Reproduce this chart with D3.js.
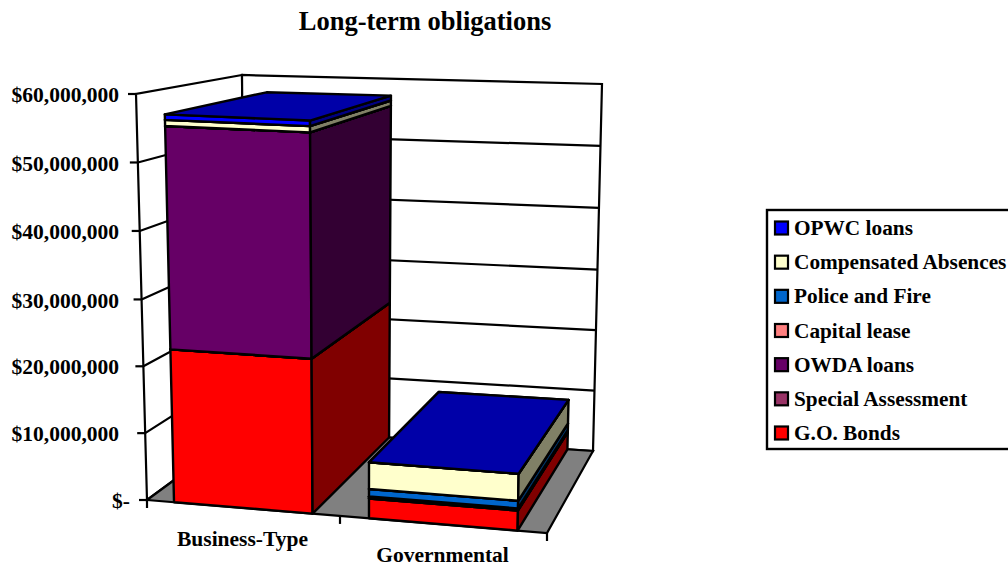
<!DOCTYPE html>
<html>
<head>
<meta charset="utf-8">
<title>Long-term obligations</title>
<script src="https://cdn.jsdelivr.net/npm/d3@7/dist/d3.min.js"></script>
<style>
  html, body { margin: 0; padding: 0; background: #fff; overflow: hidden; }
  svg { display: block; }
  text { font-family: "Liberation Serif", serif; font-weight: bold; fill: #000; }
</style>
</head>
<body>
<div id="graph"></div>
<script>
// Chart data, bottom of the stack first
const categories = ["Business-Type", "Governmental"];
const seriesNames = ["G.O. Bonds", "Special Assessment", "OWDA loans", "Capital lease", "Police and Fire", "Compensated Absences", "OPWC loans"];
const goBonds = [22800000, 2900000];
const specialAssessment = [0, 100000];
const owdaLoans = [32700000, 200000];
const capitalLease = [0, 0];
const policeAndFire = [0, 1100000];
const compensatedAbsences = [900000, 3900000];
const opwcLoans = [800000, 0];
const seriesValues = [goBonds, specialAssessment, owdaLoans, capitalLease, policeAndFire, compensatedAbsences, opwcLoans];
const valueTicks = [0, 10000000, 20000000, 30000000, 40000000, 50000000, 60000000];
const tickLabels = ["$-", "$10,000,000", "$20,000,000", "$30,000,000", "$40,000,000", "$50,000,000", "$60,000,000"];

const seriesColors = ["#ff0000", "#993366", "#660066", "#ff8080", "#0066cc", "#ffffcc", "#0000ff"];

const width = 1008, height = 565;

// Corners of the plot box on screen: c[x][depth][height]
const c = [
  [[[147, 500], [136, 94]], [[245, 428], [242, 75]]],
  [[[547, 533], [556, 111]], [[593, 451], [602, 84]]]
];

// Perspective is not even, so the scales have a bent midpoint
const xScale = d3.scaleLinear().domain([0, 1, 2]).range([0, 0.4825, 1]);
const yScale = d3.scaleLinear().domain([0, 30000000, 60000000]).range([0, 0.494, 1]);
const barInset = [0.14, 0.858];

// Trilinear lookup in the box, u/w/v all 0..1
let project = (u, w, v) => {
  let pt = [0, 1].map(i => {
    let a = c[0][0][0][i] * (1 - u) + c[1][0][0][i] * u;
    let b = c[0][1][0][i] * (1 - u) + c[1][1][0][i] * u;
    let d = c[0][0][1][i] * (1 - u) + c[1][0][1][i] * u;
    let e = c[0][1][1][i] * (1 - u) + c[1][1][1][i] * u;
    let bottom = a * (1 - w) + b * w;
    let top = d * (1 - w) + e * w;
    return bottom * (1 - v) + top * v;
  });
  return pt;
};

let shade = (col, k) => {
  let r = d3.rgb(col);
  return d3.rgb(r.r * k, r.g * k, r.b * k).formatHex();
};

const line = d3.line();
const poly = pts => line(pts) + "Z";

const svg = d3.select("#graph").append("svg")
  .attr("width", width)
  .attr("height", height);

svg.append("text")
  .attr("x", 425)
  .attr("y", 30)
  .attr("text-anchor", "middle")
  .style("font-size", "26.5px")
  .text("Long-term obligations");

// Walls
const walls = svg.append("g").attr("fill", "#fff").attr("stroke", "#000").attr("stroke-width", 2.2);
walls.append("path").attr("d", poly([project(0, 0, 0), project(0, 0, 1), project(0, 1, 1), project(0, 1, 0)]));
walls.append("path").attr("d", poly([project(0, 1, 0), project(0, 1, 1), project(1, 1, 1), project(1, 1, 0)]));

// Gridlines run along left wall then back wall
walls.selectAll(".grid").data(valueTicks.slice(1, -1)).enter()
  .append("path")
  .attr("class", "grid")
  .attr("fill", "none")
  .attr("d", d => line([project(0, 0, yScale(d)), project(0, 1, yScale(d)), project(1, 1, yScale(d))]));

// Floor
walls.append("path")
  .attr("fill", "#808080")
  .attr("d", poly([project(0, 0, 0), project(1, 0, 0), project(1, 1, 0), project(0, 1, 0)]));

// Value ticks and labels
valueTicks.forEach((t, i) => {
  let p = project(0, 0, yScale(t));
  svg.append("line")
    .attr("x1", p[0] - 8).attr("x2", p[0])
    .attr("y1", p[1]).attr("y2", p[1])
    .attr("stroke", "#000").attr("stroke-width", 2.2);
  svg.append("text")
    .attr("x", t === 0 ? 130 : 119)
    .attr("y", p[1])
    .attr("dy", "0.38em")
    .attr("text-anchor", "end")
    .style("font-size", "21.5px")
    .text(tickLabels[i]);
});

// Category ticks and labels
[0, 1, 2].forEach(k => {
  let p = project(xScale(k), 0, 0);
  svg.append("line")
    .attr("x1", p[0]).attr("x2", p[0])
    .attr("y1", p[1]).attr("y2", p[1] + 8)
    .attr("stroke", "#000").attr("stroke-width", 2.2);
});
categories.forEach((name, k) => {
  let p = project(xScale(k + 0.5), 0, 0);
  svg.append("text")
    .attr("x", p[0] - 1)
    .attr("y", p[1] + 38)
    .attr("text-anchor", "middle")
    .style("font-size", "21.5px")
    .text(name);
});

// Stacked 3D bars, drawn upward so the top face of the last one stays visible
const bars = svg.append("g").attr("stroke", "#000").attr("stroke-width", 2.4).attr("stroke-linejoin", "round");
categories.forEach((name, k) => {
  let u0 = xScale(k + barInset[0]);
  let u1 = xScale(k + barInset[1]);
  let base = 0;
  seriesValues.forEach((vals, s) => {
    let v0 = yScale(base);
    let v1 = yScale(base + vals[k]);
    base += vals[k];
    bars.append("path")
      .attr("fill", seriesColors[s])
      .attr("d", poly([project(u0, 0, v0), project(u1, 0, v0), project(u1, 0, v1), project(u0, 0, v1)]));
    bars.append("path")
      .attr("fill", shade(seriesColors[s], 0.5))
      .attr("d", poly([project(u1, 0, v0), project(u1, 1, v0), project(u1, 1, v1), project(u1, 0, v1)]));
    bars.append("path")
      .attr("fill", shade(seriesColors[s], 0.66))
      .attr("d", poly([project(u0, 0, v1), project(u1, 0, v1), project(u1, 1, v1), project(u0, 1, v1)]));
  });
});

// Legend, reverse of the stack
const legend = svg.append("g");
legend.append("rect")
  .attr("x", 767).attr("y", 210)
  .attr("width", 260).attr("height", 239)
  .attr("fill", "#fff").attr("stroke", "#000").attr("stroke-width", 2.4);
const rowScale = d3.scalePoint().domain(d3.reverse(seriesNames.slice())).range([228, 433]);
seriesNames.forEach((name, s) => {
  legend.append("rect")
    .attr("x", 775).attr("y", rowScale(name) - 6.5)
    .attr("width", 13).attr("height", 13)
    .attr("fill", seriesColors[s]).attr("stroke", "#000").attr("stroke-width", 2.2);
  legend.append("text")
    .attr("x", 794).attr("y", rowScale(name))
    .attr("dy", "0.33em")
    .style("font-size", "21.3px")
    .text(name);
});
</script>
</body>
</html>
